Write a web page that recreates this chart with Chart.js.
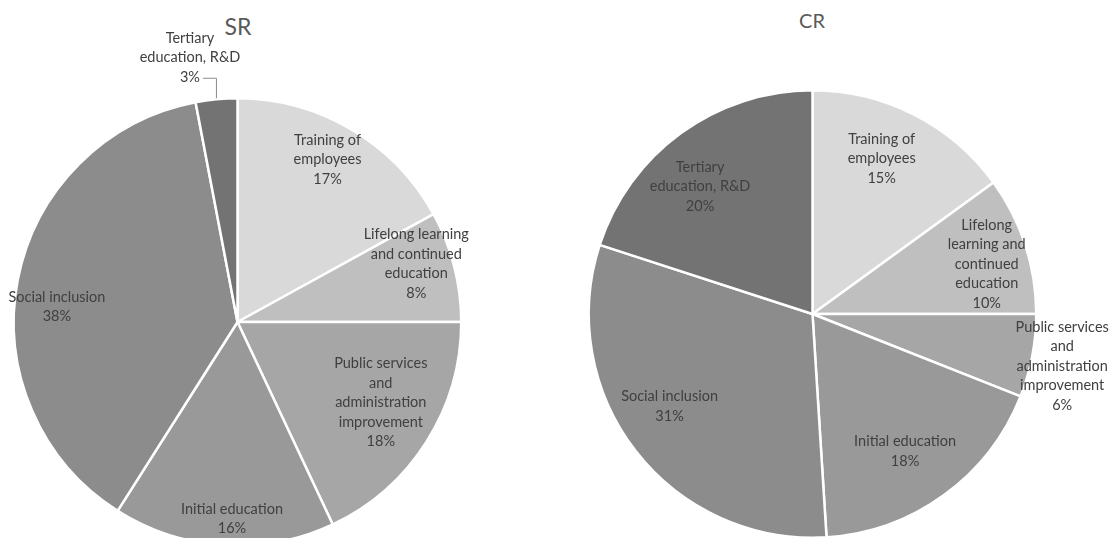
<!DOCTYPE html>
<html>
<head>
<meta charset="utf-8">
<script src="https://cdn.jsdelivr.net/npm/chart.js@4/dist/chart.umd.min.js"></script>
<style>
  html, body { margin: 0; padding: 0; background: #fff; overflow: hidden; width: 1109px; height: 538px; }
  .box { position: absolute; }
  .title { position: absolute; font-family: Lato, "Open Sans", sans-serif; color: #595959; transform: translate(-50%, -50%); white-space: nowrap; }
</style>
</head>
<body>
<div class="title" id="t1" style="left:238px; top:26px; font-size:23px;">SR</div>
<div class="title" id="t2" style="left:812px; top:20px; font-size:20px;">CR</div>
<div class="box" style="left:0; top:0; width:555px; height:560px;"><canvas id="sr"></canvas></div>
<div class="box" style="left:555px; top:0; width:554px; height:560px;"><canvas id="cr"></canvas></div>
<script>
// ---- data ----
const categories = ['Training of employees', 'Lifelong learning and continued education', 'Public services and administration improvement', 'Initial education', 'Social inclusion', 'Tertiary education, R&D'];
const srValues = [17, 8, 18, 16, 38, 3];
const crValues = [15, 10, 6, 18, 31, 20];
const srTitle = 'SR';
const crTitle = 'CR';
// wrapped label lines as shown in each pie
const srLabelLines = [
  ['Training of', 'employees'],
  ['Lifelong learning', 'and continued', 'education'],
  ['Public services', 'and', 'administration', 'improvement'],
  ['Initial education'],
  ['Social inclusion'],
  ['Tertiary', 'education, R&D']
];
const crLabelLines = [
  ['Training of', 'employees'],
  ['Lifelong', 'learning and', 'continued', 'education'],
  ['Public services', 'and', 'administration', 'improvement'],
  ['Initial education'],
  ['Social inclusion'],
  ['Tertiary', 'education, R&D']
];
const sliceColors = ['#d9d9d9', '#bfbfbf', '#a6a6a6', '#999999', '#8c8c8c', '#737373'];

// label placement (radial fraction of radius, angle shift in degrees from slice middle)
const srRadial = [0.83, 0.84, 0.735, 0.88, 0.81, 1.2];
const srShift = [-1.6, -3.6, -3, -2, -6, -4.8];
const crRadial = [0.76, 0.81, 1.14, 0.74, 0.76, 0.76];
const crShift = [-3, 2, 1, 2, 5, -5.4];

const FONT = '14.5px Lato, "Open Sans", sans-serif';
const LINE_H = 19.5;

const sliceLabels = {
  id: 'sliceLabels',
  afterDatasetsDraw(chart, args, opts) {
    const ctx = chart.ctx;
    const meta = chart.getDatasetMeta(0);
    const data = chart.data.datasets[0].data;
    const total = data.reduce((a, b) => a + b, 0);
    ctx.save();
    ctx.font = FONT;
    ctx.fillStyle = '#404040';
    ctx.textAlign = 'center';
    ctx.textBaseline = 'middle';
    meta.data.forEach((arc, i) => {
      const p = arc.getProps(['x', 'y', 'startAngle', 'endAngle', 'outerRadius'], true);
      const mid = (p.startAngle + p.endAngle) / 2 + opts.shift[i] * Math.PI / 180;
      const r = p.outerRadius * opts.radial[i];
      const cx = p.x + Math.cos(mid) * r;
      const cy = p.y + Math.sin(mid) * r;
      const lines = opts.lines[i].concat([Math.round(data[i] / total * 100) + '%']);
      const top = cy - (lines.length - 1) * LINE_H / 2;
      lines.forEach((ln, k) => ctx.fillText(ln, cx, top + k * LINE_H));
      if (opts.radial[i] > 1.15) {
        // leader line from the percentage text to the slice edge
        const realMid = (p.startAngle + p.endAngle) / 2;
        const ex = p.x + Math.cos(realMid) * p.outerRadius;
        const ey = p.y + Math.sin(realMid) * p.outerRadius;
        const lastY = top + (lines.length - 1) * LINE_H + 1;
        const pctW = ctx.measureText(lines[lines.length - 1]).width;
        ctx.strokeStyle = '#8c8c8c';
        ctx.lineWidth = 1;
        ctx.beginPath();
        ctx.moveTo(cx + pctW / 2 + 3, lastY);
        ctx.lineTo(ex, lastY);
        ctx.lineTo(ex, ey - 1);
        ctx.stroke();
      }
    });
    ctx.restore();
  }
};

function makePie(id, values, lines, radial, shift, padding) {
  return new Chart(document.getElementById(id), {
    type: 'pie',
    data: {
      labels: categories,
      datasets: [{
        data: values,
        backgroundColor: sliceColors,
        borderColor: '#ffffff',
        borderWidth: 2.5
      }]
    },
    options: {
      responsive: true,
      maintainAspectRatio: false,
      animation: false,
      layout: { padding: padding },
      plugins: {
        legend: { display: false },
        tooltip: { enabled: false },
        title: { display: false },
        sliceLabels: { lines: lines, radial: radial, shift: shift }
      }
    },
    plugins: [sliceLabels]
  });
}

makePie('sr', srValues, srLabelLines, srRadial, srShift, { left: 12, top: 97, right: 92, bottom: 13 });
makePie('cr', crValues, crLabelLines, crRadial, crShift, { left: 32, top: 89, right: 71, bottom: 21 });
</script>
</body>
</html>
